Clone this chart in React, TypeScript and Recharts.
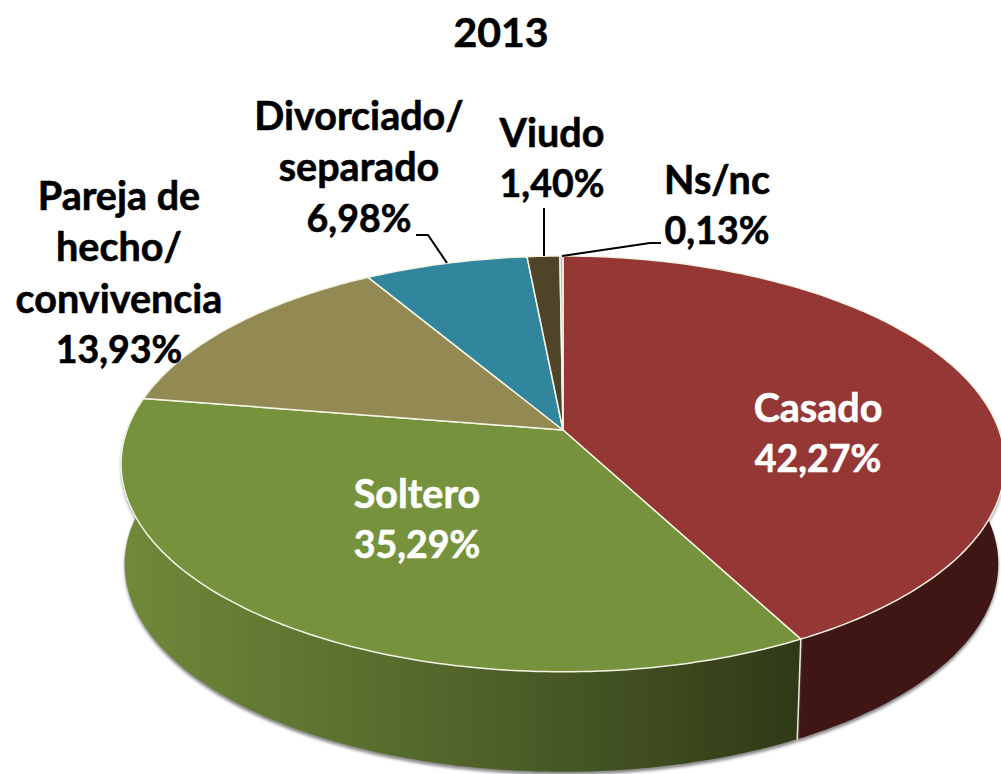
import { PieChart, Pie, Cell } from "recharts";

const categories = ["Casado", "Soltero", "Pareja de hecho/ convivencia", "Divorciado/ separado", "Viudo", "Ns/nc"];
const shares = [42.27, 35.29, 13.93, 6.98, 1.4, 0.13];
const topColors = ["#953735", "#76923C", "#938953", "#31859C", "#4F4328", "#C9B3D6"];
const sideColors = ["#3F1614", "url(#solteroSide)", "#6B6238", "#1F5A6B", "#2F2818", "#8A7A95"];

const chartData = categories.map((name, i) => ({ name, value: shares[i] }));

// where each label sits, line by line (label centre x, first line centre y)
const labelLayout = [
  { x: 818, y: 406, lines: ["Casado"], color: "#fff" },
  { x: 417, y: 492, lines: ["Soltero"], color: "#fff" },
  { x: 119, y: 194, lines: ["Pareja de", "hecho/", "convivencia"], color: "#000" },
  { x: 359, y: 114, lines: ["Divorciado/", "separado"], color: "#000" },
  { x: 552, y: 131, lines: ["Viudo"], color: "#000" },
  { x: 717, y: 178, lines: ["Ns/nc"], color: "#000" },
];
const leaderLines = [null, null, null, "M416 235H428L447 263", "M544 208V256", "M562 256L650 243H661"];

const FONT = "Lato, sans-serif";
const LINE_GAP = 51.5;
const DEPTH = 100;

// 3D tilt of the disc: a circle seen in perspective, apex = slice centre
const TILT_A = 436;
const TILT_B = 202.4;
const TILT_K = 0.163;

function rim(cx: number, cy: number, deg: number) {
  const t = (deg * Math.PI) / 180;
  const u = Math.sin(t);
  const v = Math.cos(t);
  const w = 1 + TILT_K * v;
  return { x: cx + (TILT_A * u) / w, y: cy - (TILT_B * v) / w };
}

function floor(cx: number, p: { x: number; y: number }) {
  const squeeze = p.x < cx ? 0.992 : 0.985;
  return { x: cx + (p.x - cx) * squeeze, y: p.y + DEPTH };
}

function arcPoints(cx: number, cy: number, startAngle: number, endAngle: number) {
  const from = 90 - startAngle;
  const to = 90 - endAngle;
  const n = Math.max(2, Math.ceil(Math.abs(to - from)));
  const pts = [];
  for (let i = 0; i <= n; i++) pts.push(rim(cx, cy, from + ((to - from) * i) / n));
  return pts;
}

const toPath = (pts: { x: number; y: number }[]) => pts.map((p) => `${p.x.toFixed(1)} ${p.y.toFixed(1)}`).join("L");

function TopSlice(props: any) {
  const { cx, cy, startAngle, endAngle, index } = props;
  const pts = arcPoints(cx, cy, startAngle, endAngle);
  return (
    <path
      d={`M${cx} ${cy}L${toPath(pts)}Z`}
      fill={topColors[index]}
      stroke="#F4F4E4"
      strokeWidth={1.5}
      strokeLinejoin="round"
    />
  );
}

function SideSlice(props: any) {
  const { cx, cy, startAngle, endAngle, index } = props;
  const pts = arcPoints(cx, cy, startAngle, endAngle);
  const low = pts.map((p) => floor(cx, p)).reverse();
  const first = pts[0];
  const firstLow = floor(cx, first);
  return (
    <g>
      <path
        d={`M${toPath(pts)}L${toPath(low)}Z`}
        fill={sideColors[index]}
        style={{ filter: "drop-shadow(0px 3px 1.5px #888)" }}
      />
      <path d={`M${first.x} ${first.y}L${firstLow.x} ${firstLow.y}`} stroke="#E8E8DC" strokeWidth={1.5} />
    </g>
  );
}

function SliceLabel(props: any) {
  const { index } = props;
  const spot = labelLayout[index];
  const percent = shares[index].toFixed(2).replace(".", ",") + "%";
  const rows = [...spot.lines, percent];
  return (
    <g>
      {leaderLines[index] && <path d={leaderLines[index]!} fill="none" stroke="#000" strokeWidth={2} />}
      {rows.map((row, i) => (
        <text
          key={row}
          x={spot.x}
          y={spot.y + i * LINE_GAP}
          fill={spot.color}
          stroke={spot.color}
          strokeWidth={0.6}
          textAnchor="middle"
          dominantBaseline="central"
          fontFamily={FONT}
          fontWeight={700}
          fontSize={row === percent ? 37.5 : 39.5}
        >
          {row}
        </text>
      ))}
    </g>
  );
}

export default function App() {
  return (
    <div style={{ position: "absolute", left: 0, top: 0, width: 1001, height: 774, background: "#fff" }}>
      <PieChart width={1001} height={774} margin={{ top: 0, right: 0, bottom: 0, left: 0 }}>
        <defs>
          <linearGradient id="solteroSide" gradientUnits="userSpaceOnUse" x1={120} y1={0} x2={800} y2={0}>
            <stop offset="0%" stopColor="#70893A" />
            <stop offset="45%" stopColor="#55682C" />
            <stop offset="100%" stopColor="#2F3A17" />
          </linearGradient>
        </defs>
        <text
          x={501}
          y={31}
          textAnchor="middle"
          dominantBaseline="central"
          fontFamily={FONT}
          fontWeight={700}
          fontSize={41}
          stroke="#000"
          strokeWidth={0.6}
          fill="#000"
        >
          2013
        </text>
        <Pie
          data={chartData}
          dataKey="value"
          nameKey="name"
          cx={563}
          cy={430}
          outerRadius={200}
          startAngle={90}
          endAngle={-270}
          shape={SideSlice}
          isAnimationActive={false}
        />
        <Pie
          data={chartData}
          dataKey="value"
          nameKey="name"
          cx={563}
          cy={430}
          outerRadius={200}
          startAngle={90}
          endAngle={-270}
          shape={TopSlice}
          label={SliceLabel}
          labelLine={false}
          isAnimationActive={false}
        >
          {chartData.map((_, idx) => (
            <Cell key={`cell-${idx}`} fill={topColors[idx]} />
          ))}
        </Pie>
      </PieChart>
    </div>
  );
}
